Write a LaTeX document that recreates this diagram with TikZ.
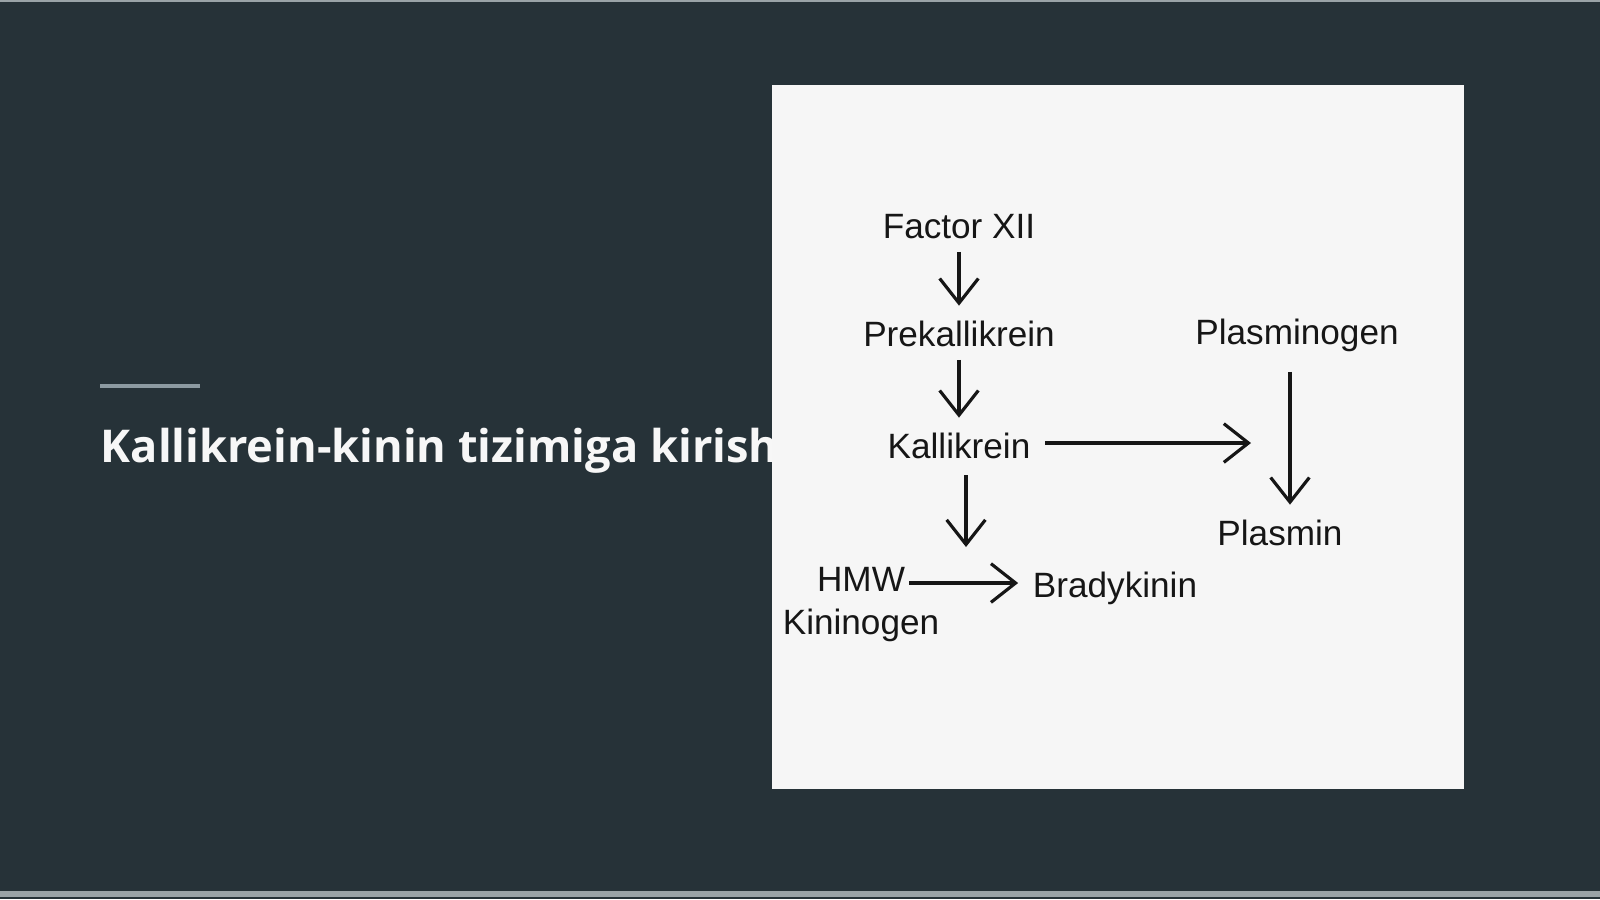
\documentclass[tikz,border=0pt]{standalone}
\usepackage{fontspec}
\setmainfont{Liberation Sans}
\newfontfamily\titlefont{Open Sans}
\usetikzlibrary{arrows.meta, calc, positioning}
\definecolor{bg}{HTML}{263238}
\definecolor{rim}{HTML}{9AA3A7}
\definecolor{rule}{HTML}{8C9AA1}
\definecolor{card}{HTML}{F6F6F6}
\definecolor{ink}{HTML}{161616}
\definecolor{w}{HTML}{F7F7F7}

\begin{document}
\begin{tikzpicture}[x=0.01cm, y=-0.01cm,
		lbl/.style={text=ink, font=\fontsize{10}{12}\selectfont, inner sep=1pt, text height=7.5pt, text depth=2.5pt},
		arr/.style={draw=ink, line width=0.9pt, -{Straight Barb[length=7pt, width=11pt, line width=0.9pt]}, shorten >=3pt}]
			\useasboundingbox (0, 0) rectangle (1600, 899);
			\fill[bg] (0, 0) rectangle (1600, 899);
			\fill[rim] (0, 0) rectangle (1600, 2);
			\fill[rim] (0, 891) rectangle (1600, 897);
			
			\draw[draw=rule, line width=0.9pt] (100, 386) -- (200, 386);
			\node[anchor=base west, inner sep=0pt, text=w, font=\titlefont\bfseries\fontsize{12.85}{16}\selectfont] (title) at (100, 462) {Kallikrein-kinin tizimiga kirish};
			
			\fill[card] (772, 85) rectangle (1464, 789);
			
			\coordinate (c1) at (959, 230);
			\coordinate (c2) at (959, 338);
			\coordinate (c3) at (959, 450);
			\coordinate (c4) at (1297, 336);
			\coordinate (c5) at (1280, 537);
			\coordinate (c6) at (861, 583);
			\coordinate (c7) at (861, 626);
			\coordinate (c8) at (1115, 589);
			
			\node[lbl] (fxii) at (c1) {Factor XII};
			\node[lbl] (prek) at (c2) {Prekallikrein};
			\node[lbl] (kal) at (c3) {Kallikrein};
			\node[lbl] (pgen) at (c4) {Plasminogen};
			\node[lbl] (plm) at (c5) {Plasmin};
			\node[lbl] (hmw) at (c6) {HMW};
			\node[lbl] (kin) at (c7) {Kininogen};
			\node[lbl] (brady) at (c8) {Bradykinin};
			
			\coordinate (vx) at (1290, 0);
			\coordinate (kdown) at (966, 547);
			\coordinate (kright) at (1251, 443);
			
			\draw[arr] (fxii) -- (prek);
			\draw[arr] (prek) -- (kal);
			\draw[arr, shorten >=0pt] ([yshift=-1pt]kal.south -| kdown) -- (kdown);
			\draw[arr, shorten >=0pt] ([xshift=3pt]kal.east |- kright) -- (kright);
			\draw[arr] ([yshift=-4pt]pgen.south -| vx) -- (plm.north -| vx);
			\draw[arr] (hmw.east |- hmw) -- (brady.west |- hmw);
		\end{tikzpicture}
\end{document}
